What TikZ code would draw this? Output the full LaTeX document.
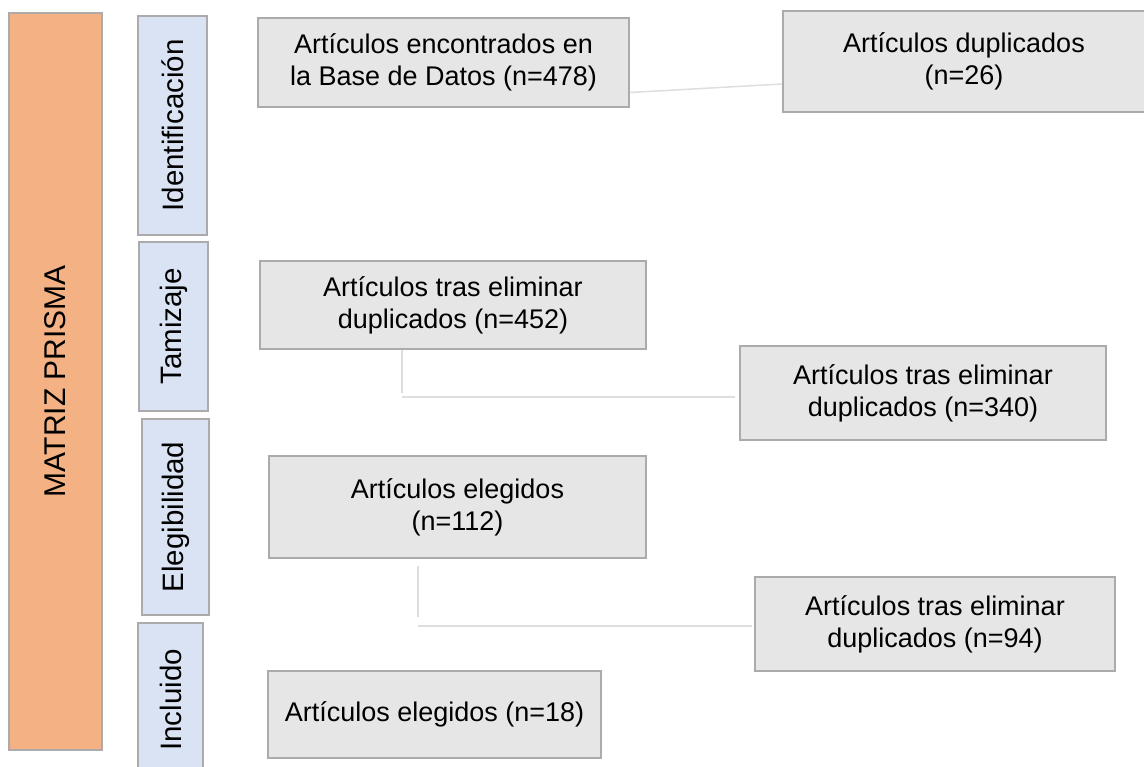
\documentclass[tikz,border=0pt]{standalone}
\usepackage{fontspec}
\setmainfont{Liberation Sans}
\usepackage{tikz}
\usetikzlibrary{positioning}

\definecolor{prismaorange}{RGB}{244,177,131}
\definecolor{stageblue}{RGB}{218,227,243}
\definecolor{boxgray}{RGB}{230,230,230}
\definecolor{bordergray}{RGB}{172,170,170}
\definecolor{linkgray}{RGB}{222,222,222}

\begin{document}
\begin{tikzpicture}[
        x=1pt,
        y=-1pt,
        font=\fontsize{27}{32}\selectfont,
        frame/.style={draw=bordergray, line width=2.5pt, inner sep=0pt, align=center},
        title/.style={frame, fill=prismaorange, rotate=90, font=\fontsize{30}{34}\selectfont},
        stage/.style={frame, fill=stageblue, rotate=90, font=\fontsize{29.5}{34}\selectfont},
        box/.style={frame, fill=boxgray},
        link/.style={draw=linkgray, line width=1.5pt}
    ]
        \useasboundingbox (0,0) rectangle (1144,767);

        % Left column: title and phases.
        \node[title, minimum width=737pt, minimum height=93pt] (matriz) at (55.5,381.5) {MATRIZ PRISMA};
        \node[stage, minimum width=219pt, minimum height=69pt] (ident) at (172.5,125.5) {Identificación};
        \node[stage, minimum width=169pt, minimum height=69pt] (tamiz) at (173.5,326.5) {Tamizaje};
        \node[stage, minimum width=196pt, minimum height=67pt] (eleg) at (175.5,517) {Elegibilidad};
        \node[stage, minimum width=154pt, minimum height=65pt] (incl) at (170.5,700) {Incluido};

        % Flow boxes.
        \node[box, minimum width=371pt, minimum height=89pt] (encontrados) at (443.5,62.5)
            {Artículos encontrados en\\la Base de Datos (n=478)};
        \node[box, minimum width=362pt, minimum height=101pt] (duplicados) at (964,61.5)
            {Artículos duplicados\\(n=26)};
        \node[box, minimum width=386pt, minimum height=88pt] (tras) at (453,305)
            {Artículos tras eliminar\\duplicados (n=452)};
        \node[box, minimum width=366pt, minimum height=94pt] (cribados) at (923,393)
            {Artículos tras eliminar\\duplicados (n=340)};
        \node[box, minimum width=377pt, minimum height=102pt] (elegidos) at (457.5,507)
            {Artículos elegidos\\(n=112)};
        \node[box, minimum width=360pt, minimum height=94pt] (excluidos) at (935,624)
            {Artículos tras eliminar\\duplicados (n=94)};
        \node[box, minimum width=333pt, minimum height=87pt] (incluidos) at (434.5,714.5)
            {Artículos elegidos (n=18)};

        % Connectors.
        \draw[link] ([yshift=-30pt]encontrados.east) -- ([yshift=-22.5pt]duplicados.west);

        \coordinate (tzcorner) at (402,397);
        \draw[link] (tzcorner |- tras.south) -- ([yshift=4pt]tzcorner);
        \draw[link] (tzcorner) -- ([xshift=-4pt]tzcorner -| cribados.west);

        \coordinate (elcorner) at (418,626);
        \draw[link] ([yshift=-7pt]elcorner |- elegidos.south) -- ([yshift=9pt]elcorner);
        \draw[link] (elcorner) -- ([xshift=-2pt]elcorner -| excluidos.west);
\end{tikzpicture}
\end{document}
